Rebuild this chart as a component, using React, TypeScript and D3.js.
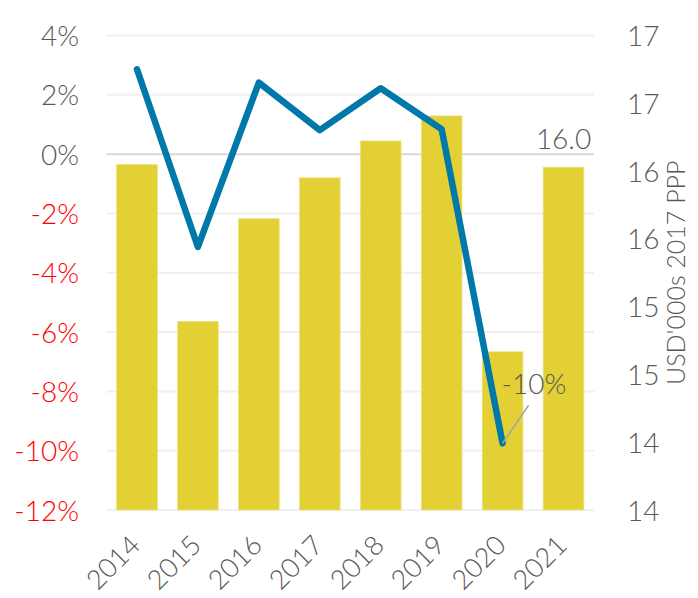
import { useEffect, useRef } from 'react';
import * as d3 from 'd3';

const years = ['2014', '2015', '2016', '2017', '2018', '2019', '2020', '2021'];
// USD'000s 2017 PPP (bars, right axis)
const incomeValues = [16.02, 14.83, 15.61, 15.92, 16.2, 16.39, 14.6, 16.0];
// annual growth in % (line, left axis); no value for 2021
const growthValues = [2.86, -3.13, 2.41, 0.81, 2.22, 0.84, -9.75];
const leftTicks = [4, 2, 0, -2, -4, -6, -8, -10, -12];
const rightTickLabels = ['14', '14', '15', '15', '16', '16', '17', '17'];

const GREY = '#595959';
const RED = '#ff0000';
const FONT = 'Lato, "Open Sans", sans-serif';

function drawChart(svgElement: SVGSVGElement) {
  const svg = d3.select(svgElement);
  svg.selectAll('*').remove();

  const width = 698;
  const height = 598;
  const margin = { top: 35.5, right: 104, bottom: 88, left: 106.5 };

  svg.attr('viewBox', `0 0 ${width} ${height}`);

  const x = d3
    .scaleBand<string>()
    .domain(years)
    .range([margin.left, width - margin.right])
    .paddingInner(0.333)
    .paddingOuter(0.1667);

  const yLeft = d3
    .scaleLinear()
    .domain([-12, 4])
    .range([height - margin.bottom, margin.top]);

  const rightDomain: [number, number] = [13.4, 17.0];
  const yRight = d3
    .scaleLinear()
    .domain(rightDomain)
    .range([height - margin.bottom, margin.top]);
  const rightTicks = rightTickLabels.map(
    (_, i) => rightDomain[0] + (i * (rightDomain[1] - rightDomain[0])) / (rightTickLabels.length - 1)
  );

  // gridlines
  svg
    .append('g')
    .selectAll('line')
    .data(leftTicks)
    .join('line')
    .attr('x1', margin.left)
    .attr('x2', width - margin.right)
    .attr('y1', (d: number) => yLeft(d))
    .attr('y2', (d: number) => yLeft(d))
    .attr('stroke', (d: number) => (d === 0 ? '#d9d9d9' : '#f0f0f0'))
    .attr('stroke-width', 2);

  // bars
  svg
    .append('g')
    .selectAll('rect')
    .data(incomeValues)
    .join('rect')
    .attr('x', (_: number, i: number) => x(years[i]) ?? 0)
    .attr('y', (d: number) => yRight(d))
    .attr('width', x.bandwidth())
    .attr('height', (d: number) => yRight(rightDomain[0]) - yRight(d))
    .attr('fill', '#e2d034')
    .attr('stroke', '#ece27a')
    .attr('stroke-width', 0.8);

  // growth line
  const line = d3
    .line<number>()
    .x((_: number, i: number) => (x(years[i]) ?? 0) + x.bandwidth() / 2)
    .y((d: number) => yLeft(d));

  svg
    .append('path')
    .datum(growthValues)
    .attr('d', line)
    .attr('fill', 'none')
    .attr('stroke', '#0078aa')
    .attr('stroke-width', 6.5)
    .attr('stroke-linejoin', 'round')
    .attr('stroke-linecap', 'round');

  // left axis labels
  svg
    .append('g')
    .selectAll('text')
    .data(leftTicks)
    .join('text')
    .attr('x', 79)
    .attr('y', (d: number) => yLeft(d) + 10.5)
    .attr('text-anchor', 'end')
    .attr('fill', (d: number) => (d < 0 ? RED : GREY))
    .text((d: number) => `${d}%`);

  // right axis labels
  svg
    .append('g')
    .selectAll('text')
    .data(rightTicks)
    .join('text')
    .attr('x', 627)
    .attr('y', (d: number) => yRight(d) + 10.5)
    .attr('text-anchor', 'start')
    .attr('fill', GREY)
    .text((_: number, i: number) => rightTickLabels[i]);

  svg
    .append('text')
    .attr('transform', `translate(685,${(margin.top + height - margin.bottom) / 2}) rotate(-90)`)
    .attr('text-anchor', 'middle')
    .attr('fill', GREY)
    .attr('font-size', 25)
    .text("USD'000s 2017 PPP");

  // x axis labels
  svg
    .append('g')
    .selectAll('text')
    .data(years)
    .join('text')
    .attr(
      'transform',
      (d: string) => `translate(${(x(d) ?? 0) + x.bandwidth() / 2 + 5},547) rotate(-45)`
    )
    .attr('text-anchor', 'end')
    .attr('fill', GREY)
    .attr('font-size', 27)
    .text((d: string) => d);

  // data label for the last bar
  const lastIdx = incomeValues.length - 1;
  svg
    .append('text')
    .attr('x', (x(years[lastIdx]) ?? 0) + x.bandwidth() / 2)
    .attr('y', yRight(incomeValues[lastIdx]) - 18)
    .attr('text-anchor', 'middle')
    .attr('fill', GREY)
    .text(d3.format('.1f')(incomeValues[lastIdx]));

  // data label for the 2020 drop with leader line
  const minIdx = growthValues.length - 1;
  const px = (x(years[minIdx]) ?? 0) + x.bandwidth() / 2;
  const py = yLeft(growthValues[minIdx]);
  svg
    .append('line')
    .attr('x1', px)
    .attr('y1', py)
    .attr('x2', px + 26)
    .attr('y2', py - 38)
    .attr('stroke', '#a6a6a6')
    .attr('stroke-width', 1.5);
  svg
    .append('text')
    .attr('x', px - 1)
    .attr('y', py - 49)
    .attr('text-anchor', 'start')
    .attr('fill', GREY)
    .text(`${Math.round(growthValues[minIdx])}%`);
}

export default function App() {
  const ref = useRef<SVGSVGElement>(null);

  useEffect(() => {
    if (ref.current) {
      drawChart(ref.current);
    }
  }, []);

  return (
    <svg
      ref={ref}
      width={698}
      height={598}
      style={{
        position: 'absolute',
        left: 0,
        top: 0,
        fontFamily: FONT,
        fontWeight: 300,
        fontSize: 28,
        background: '#fff',
      }}
    />
  );
}
